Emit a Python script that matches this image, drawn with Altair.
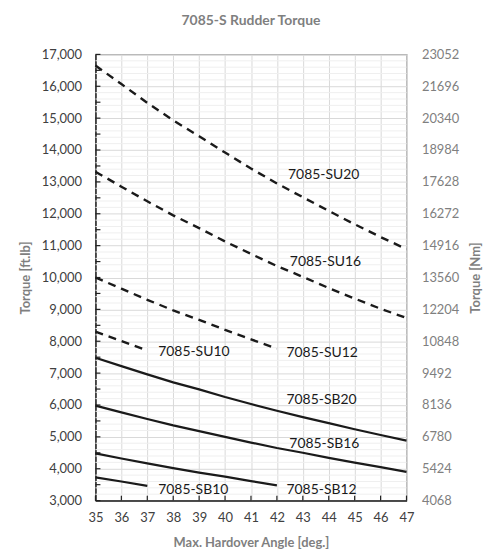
import altair as alt
import pandas as pd

# ---- data ----
angles = list(range(35, 48))
su20 = [16650, 16070, 15480, 14930, 14430, 13920, 13420, 12950, 12520, 12090, 11670, 11270, 10890]
su16 = [13320, 12850, 12390, 11950, 11550, 11130, 10740, 10360, 10020, 9670, 9340, 9020, 8730]
su12 = [10000, 9650, 9300, 8970, 8670, 8360, 8060, 7770]
su10 = [8300, 8010, 7710]
sb20 = [7480, 7220, 6960, 6710, 6490, 6250, 6030, 5820, 5620, 5430, 5240, 5060, 4880]
sb16 = [5980, 5770, 5560, 5360, 5180, 5000, 4820, 4650, 4500, 4340, 4190, 4050, 3900]
sb12 = [4480, 4320, 4170, 4020, 3880, 3750, 3610, 3480]
sb10 = [3730, 3600, 3460]

series_names = ["7085-SU20", "7085-SU16", "7085-SU12", "7085-SU10",
                "7085-SB20", "7085-SB16", "7085-SB12", "7085-SB10"]
series_vals = [su20, su16, su12, su10, sb20, sb16, sb12, sb10]

label_x = [42.43, 42.5, 42.37, 37.42, 42.37, 42.48, 42.37, 37.42]
label_y = [13215, 10485, 7624, 7677, 6168, 4777, 3343, 3321]

left_ticks = list(range(3000, 17001, 1000))
right_ticks = [4068, 5424, 6780, 8136, 9492, 10848, 12204, 13560, 14916, 16272, 17628, 18984, 20340, 21696, 23052]

rows = []
for name, vals in zip(series_names, series_vals):
    for a, v in zip(angles, vals):
        rows.append({"series": name, "angle": a, "torque": v,
                     "kind": "SU" if "SU" in name else "SB"})
df = pd.DataFrame(rows)
labels_df = pd.DataFrame({"series": series_names, "angle": label_x, "torque": label_y})
minor_df = pd.DataFrame({"torque": [v for v in range(3000, 17001, 200) if v % 1000 != 0]})
ytick_df = pd.DataFrame({"torque": list(range(3000, 17001, 500))})
xtick_df = pd.DataFrame({"angle": angles})
right_df = pd.DataFrame({"angle": [35, 35], "nm": [right_ticks[0], right_ticks[-1]]})

W, H = 313, 449
FONT = "Lato"

xscale = alt.Scale(domain=[35, 47], nice=False, zero=False)
yscale = alt.Scale(domain=[3000, 17000], nice=False, zero=False)

xaxis = alt.Axis(values=angles, title="Max. Hardover Angle [deg.]", grid=True,
                 gridColor="#d9d9d9", ticks=False, tickSize=0, domain=True,
                 domainColor="#222222", domainWidth=1.5, labelFontSize=13,
                 labelColor="#404040", labelPadding=11, titleFontSize=13,
                 titleColor="#7f7f7f", titleFontWeight="bold", titlePadding=12,
                 labelFont=FONT, titleFont=FONT, labelFlush=False)
yaxis = alt.Axis(values=left_ticks, format=",d", title="Torque [ft.lb]", grid=True,
                 gridColor="#d9d9d9", ticks=False, tickSize=0, domain=True,
                 domainColor="#222222", domainWidth=1.5, labelFontSize=13,
                 labelColor="#404040", labelPadding=14, titleFontSize=13,
                 titleColor="#7f7f7f", titleFontWeight="bold", titlePadding=9,
                 labelFont=FONT, titleFont=FONT, labelFlush=False)

X = alt.X("angle:Q", scale=xscale, axis=xaxis)
Y = alt.Y("torque:Q", scale=yscale, axis=yaxis)

minor_grid = alt.Chart(minor_df).mark_rule(color="#efefef", strokeWidth=1).encode(
    y=Y, x=alt.value(0), x2=alt.value(W))

dashed = alt.Chart(df[df["kind"] == "SU"]).mark_line(
    color="#1a1a1a", strokeWidth=2.4, strokeDash=[8, 6]).encode(
    x=X, y=Y, detail="series:N")

solid = alt.Chart(df[df["kind"] == "SB"]).mark_line(
    color="#1a1a1a", strokeWidth=2.2).encode(
    x=X, y=Y, detail="series:N")

texts = alt.Chart(labels_df).mark_text(
    align="left", baseline="middle", fontSize=14, font=FONT, color="#1a1a1a").encode(
    x=X, y=Y, text="series:N")

yticks = alt.Chart(ytick_df).mark_rule(color="#222222", strokeWidth=1.2).encode(
    y=Y, x=alt.value(0), x2=alt.value(5))
xticks = alt.Chart(xtick_df).mark_rule(color="#222222", strokeWidth=1.2).encode(
    x=X, y=alt.value(H), y2=alt.value(H - 5))

left = alt.layer(minor_grid, dashed, solid, texts, yticks, xticks)

right = alt.Chart(right_df).mark_point(opacity=0).encode(
    x=X,
    y=alt.Y("nm:Q", scale=alt.Scale(domain=[right_ticks[0], right_ticks[-1]], nice=False, zero=False),
            axis=alt.Axis(orient="right", values=right_ticks, format="d", title="Torque [Nm]",
                          grid=False, ticks=False, tickSize=0, domain=False,
                          labelFontSize=13, labelColor="#7f7f7f", labelPadding=15,
                          titleFontSize=13, titleColor="#7f7f7f", titleFontWeight="bold",
                          titleAngle=270, titleBaseline="top",
                          titlePadding=11, labelFont=FONT, titleFont=FONT, labelFlush=False)))

chart = alt.layer(left, right).resolve_scale(y="independent").properties(
    width=W, height=H,
    title=alt.TitleParams("7085-S Rudder Torque", fontSize=14, font=FONT, fontWeight="bold",
                          color="#7f7f7f", anchor="middle", offset=21),
    autosize=alt.AutoSizeParams(type="none"),
    padding={"left": 88, "top": 45, "right": 80, "bottom": 47},
).configure_view(stroke="#8c8c8c", strokeWidth=1.2)

chart.save("out.html", embed_options={"renderer": "svg", "actions": False})
